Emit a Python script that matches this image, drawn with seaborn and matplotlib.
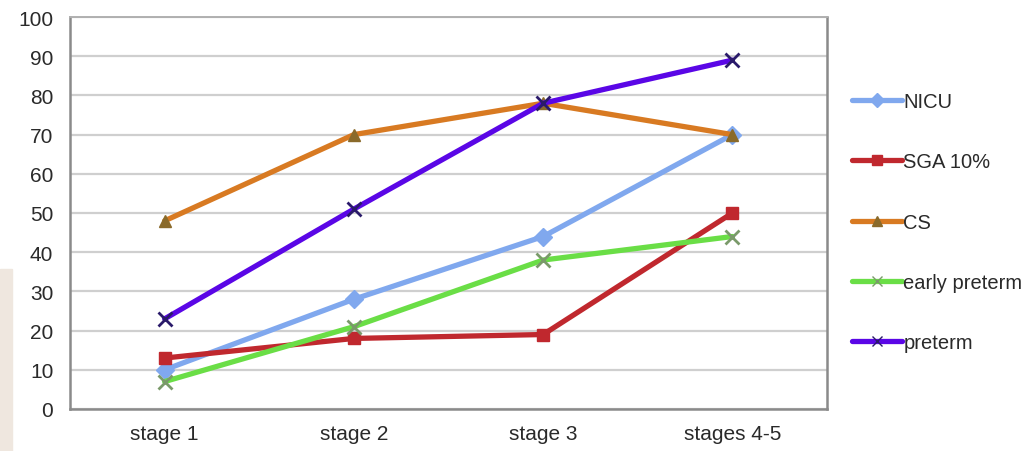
import matplotlib
matplotlib.use("Agg")
import matplotlib.pyplot as plt
import matplotlib.patches as mpatches
from matplotlib.ticker import FixedLocator
import seaborn as sns
import pandas as pd

# Outcome rates (%) by disease stage
stages = ["stage 1", "stage 2", "stage 3", "stages 4-5"]
series_names = ["NICU", "SGA 10%", "CS", "early preterm", "preterm"]
nicu = [10, 28, 44, 70]
sga_10 = [13, 18, 19, 50]
cs = [48, 70, 78, 70]
early_preterm = [7, 21, 38, 44]
preterm = [23, 51, 78, 89]
y_ticks = list(range(0, 101, 10))

values = [nicu, sga_10, cs, early_preterm, preterm]
df = pd.DataFrame(
    [(name, st, v) for name, vals in zip(series_names, values) for st, v in zip(stages, vals)],
    columns=["series", "stage", "value"],
)

line_colors = ["#80a8ee", "#c0282e", "#d87a22", "#6ade46", "#5a06e6"]
marker_colors = ["#80a8ee", "#c0282e", "#8a6a2a", "#7a9a6a", "#2a1a6a"]
markers = ["D", "s", "^", "x", "x"]

sns.set_theme(style="white")
plt.rcParams["font.family"] = ["Liberation Sans", "DejaVu Sans"]

fig = plt.figure(figsize=(10.25, 4.52), dpi=100)
ax = fig.add_axes([70 / 1025, 1 - 410 / 452, (827 - 70) / 1025, (410 - 18) / 452])

sns.lineplot(
    data=df, x="stage", y="value", hue="series", hue_order=series_names,
    palette=line_colors, linewidth=3.8, ax=ax, legend=False, sort=False,
)
for line, mk, mc in zip(ax.get_lines(), markers, marker_colors):
    line.set_marker(mk)
    line.set_markersize(9 if mk != "x" else 10)
    line.set_markerfacecolor(mc)
    line.set_markeredgecolor(mc)
    line.set_markeredgewidth(2.0 if mk == "x" else 1.0)
    line.set_solid_joinstyle("round")

ax.set_xlim(-0.5, 3.5)
ax.set_ylim(0, 100)
ax.set_yticks(y_ticks)
ax.set_xticks(range(len(stages)))
ax.set_xticklabels(stages)
ax.xaxis.set_minor_locator(FixedLocator([-0.5, 0.5, 1.5, 2.5, 3.5]))
ax.tick_params(axis="x", which="major", length=0, pad=11, labelsize=15, labelcolor="#2a2a2a")
ax.tick_params(axis="x", which="minor", length=4, width=1.2, color="#888888", direction="out")
ax.tick_params(axis="y", length=4, width=1.2, color="#888888", direction="out",
               pad=8, labelsize=15, labelcolor="#2a2a2a")
ax.set_xlabel("")
ax.set_ylabel("")
ax.grid(axis="y", color="#cfcfcf", linewidth=1.6)
ax.set_axisbelow(True)
for side in ["left", "bottom", "right", "top"]:
    ax.spines[side].set_visible(True)
    ax.spines[side].set_color("#8a8a8a")
    ax.spines[side].set_linewidth(1.8)
ax.spines["top"].set_color("#b0b0b0")
ax.spines["top"].set_linewidth(1.4)

# Legend on the right
handles = [
    plt.Line2D([], [], color=lc, linewidth=3.8, marker=mk, markersize=7,
               markerfacecolor=mc, markeredgecolor=mc)
    for lc, mk, mc in zip(line_colors, markers, marker_colors)
]
leg = fig.legend(
    handles, series_names, loc="upper left", bbox_to_anchor=(844 / 1025, 1 - 85 / 452),
    frameon=False, handlelength=2.5, handletextpad=0.05, labelspacing=2.05,
    prop={"size": 14.5}, borderaxespad=0,
)
for t in leg.get_texts():
    t.set_color("#2a2a2a")

# Left-edge tinted strip
fig.patches.append(mpatches.Rectangle((0, 0), 12 / 1025, (452 - 270) / 452,
                                      transform=fig.transFigure, color="#efe7df", zorder=0))

fig.savefig("out.png", dpi=100)
